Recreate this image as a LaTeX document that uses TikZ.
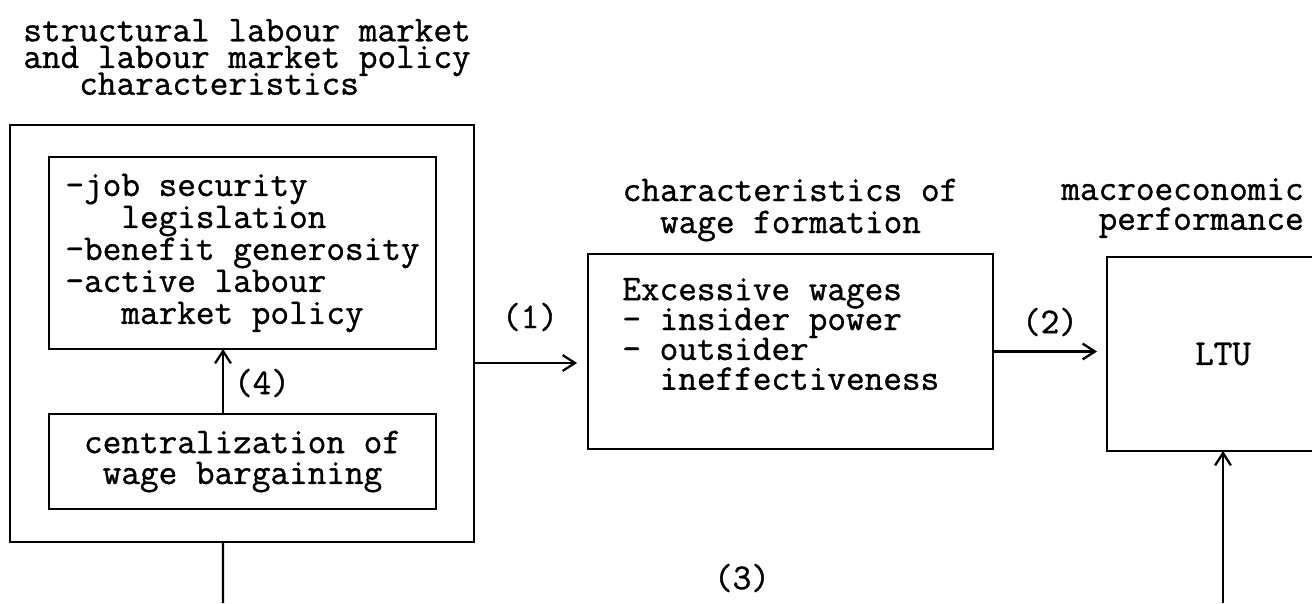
\documentclass[tikz,border=0pt]{standalone}
\usepackage{fontspec}
\newfontfamily\typew{Latin Modern Mono}[FakeBold=1]
\usetikzlibrary{arrows.meta,positioning}
\newcommand{\tightlines}{\lineskiplimit=-20pt\relax}

\begin{document}
\begin{tikzpicture}[x=0.02cm,y=-0.02cm]
	\tikzset{lines/.style={font=\fontsize{20.6pt}{#1}\selectfont\typew\tightlines}}
	\tikzstyle{panel}
	  =[draw, rectangle, line width=1.3pt, inner sep=0pt, outer sep=0pt]
	\tikzstyle{lbl}
	  =[inner sep=0pt, lines=18pt]
	\tikzstyle{arr}
	  =[line width=1.3pt, -{Straight Barb[length=7pt,width=9pt,line width=1.3pt]}]

	\useasboundingbox (0,0) rectangle (1312,603);
	\clip (0,0) rectangle (1312,603);

	% left block
	\node[lbl, lines=15.2pt, align=left, anchor=west] (head)
	  at (23,57) {structural labour market\\and labour market policy\\\hphantom{xxx}characteristics};
	\node[panel, minimum width=9.28cm, minimum height=8.34cm] (outer)
	  at (242,333.5) {};
	\node[panel, lines=18.2pt, align=left, minimum width=7.74cm, minimum height=3.84cm] (jobs)
	  at (242.5,253) {-job security\\\hphantom{xxx}legislation\\-benefit generosity\\-active labour\\\hphantom{xxx}market policy};
	\node[panel, lines=17.6pt, align=center, minimum width=7.74cm, minimum height=1.9cm] (central)
	  at (242.5,461.5) {centralization of\\wage bargaining};

	% middle block
	\node[lbl, lines=18.2pt, align=center] (wagehead)
	  at (790.5,210) {characteristics of\\wage formation};
	\node[panel, minimum width=8.1cm, minimum height=3.9cm] (wage)
	  at (790.5,351.5) {};
	\node[lbl, lines=17pt, align=left, anchor=west] (wagetext)
	  at (622,334) {Excessive wages\\- insider power\\- outsider\\\hphantom{xx}ineffectiveness};

	% right block
	\node[lbl, lines=17pt, align=left, anchor=west] (ltuhead)
	  at (1061,208) {macroeconomic\\\hphantom{xx}performance};
	\node[panel, lbl, minimum width=4.64cm, minimum height=3.88cm] (ltu)
	  at (1223,354) {LTU};

	% labels
	\node[lbl] (l1) at (530,317) {(1)};
	\node[lbl] (l2) at (1050,322) {(2)};
	\node[lbl] (l3) at (742,578) {(3)};
	\node[lbl] (l4) at (262,383) {(4)};

	\coordinate (a1) at (0,363);
	\coordinate (b1) at (223,603);
	\coordinate (b2) at (1223,603);

	\draw[arr, shorten >=0.22cm] (outer.east |- a1)--(wage.west |- a1);
	\draw[arr, shorten >=0.2cm] (wage.east)--(wage.east -| ltu.west);
	\draw[arr] ([xshift=-0.39cm]central.north)--([xshift=-0.39cm]jobs.south);
	\draw[line width=1.3pt] ([xshift=-0.38cm]outer.south)--(b1);
	\draw[arr] (b2)--(ltu.south);
\end{tikzpicture}
\end{document}
